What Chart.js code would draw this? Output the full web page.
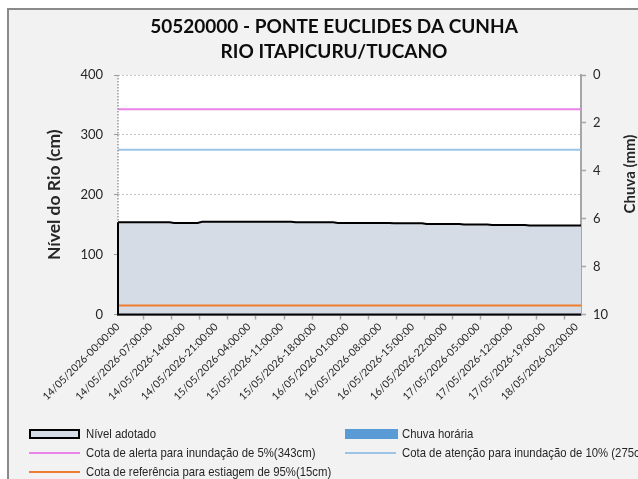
<!DOCTYPE html>
<html><head><meta charset="utf-8">
<script src="https://cdn.jsdelivr.net/npm/chart.js@4/dist/chart.umd.min.js"></script>
<style>
html,body{margin:0;padding:0;background:#fff;overflow:hidden;width:638px;height:479px;}
#frame{position:absolute;left:7px;top:8px;width:660px;height:520px;box-sizing:border-box;border:2px solid #8a8a8a;background:#f2f2f2;}
#c{position:absolute;left:8px;top:8px;}
#legend{position:absolute;left:0;top:0;width:700px;height:479px;font-family:"Liberation Sans",Arial,sans-serif;font-size:13.5px;color:#262626;}
.sym{position:absolute;}
.txt{position:absolute;transform:scaleX(0.84);transform-origin:0 50%;}
</style></head>
<body>
<div id="frame"></div>
<canvas id="c" width="652" height="410"></canvas>
<div id="legend"></div>
<script>
// ---- data ----
const titleLines = ["50520000 - PONTE EUCLIDES DA CUNHA", "RIO ITAPICURU/TUCANO"];
const categories = [
"14/05/2026-00:00:00","14/05/2026-01:00:00","14/05/2026-02:00:00","14/05/2026-03:00:00","14/05/2026-04:00:00","14/05/2026-05:00:00","14/05/2026-06:00:00","14/05/2026-07:00:00","14/05/2026-08:00:00","14/05/2026-09:00:00","14/05/2026-10:00:00","14/05/2026-11:00:00","14/05/2026-12:00:00","14/05/2026-13:00:00","14/05/2026-14:00:00","14/05/2026-15:00:00","14/05/2026-16:00:00","14/05/2026-17:00:00","14/05/2026-18:00:00","14/05/2026-19:00:00","14/05/2026-20:00:00","14/05/2026-21:00:00","14/05/2026-22:00:00","14/05/2026-23:00:00",
"15/05/2026-00:00:00","15/05/2026-01:00:00","15/05/2026-02:00:00","15/05/2026-03:00:00","15/05/2026-04:00:00","15/05/2026-05:00:00","15/05/2026-06:00:00","15/05/2026-07:00:00","15/05/2026-08:00:00","15/05/2026-09:00:00","15/05/2026-10:00:00","15/05/2026-11:00:00","15/05/2026-12:00:00","15/05/2026-13:00:00","15/05/2026-14:00:00","15/05/2026-15:00:00","15/05/2026-16:00:00","15/05/2026-17:00:00","15/05/2026-18:00:00","15/05/2026-19:00:00","15/05/2026-20:00:00","15/05/2026-21:00:00","15/05/2026-22:00:00","15/05/2026-23:00:00",
"16/05/2026-00:00:00","16/05/2026-01:00:00","16/05/2026-02:00:00","16/05/2026-03:00:00","16/05/2026-04:00:00","16/05/2026-05:00:00","16/05/2026-06:00:00","16/05/2026-07:00:00","16/05/2026-08:00:00","16/05/2026-09:00:00","16/05/2026-10:00:00","16/05/2026-11:00:00","16/05/2026-12:00:00","16/05/2026-13:00:00","16/05/2026-14:00:00","16/05/2026-15:00:00","16/05/2026-16:00:00","16/05/2026-17:00:00","16/05/2026-18:00:00","16/05/2026-19:00:00","16/05/2026-20:00:00","16/05/2026-21:00:00","16/05/2026-22:00:00","16/05/2026-23:00:00",
"17/05/2026-00:00:00","17/05/2026-01:00:00","17/05/2026-02:00:00","17/05/2026-03:00:00","17/05/2026-04:00:00","17/05/2026-05:00:00","17/05/2026-06:00:00","17/05/2026-07:00:00","17/05/2026-08:00:00","17/05/2026-09:00:00","17/05/2026-10:00:00","17/05/2026-11:00:00","17/05/2026-12:00:00","17/05/2026-13:00:00","17/05/2026-14:00:00","17/05/2026-15:00:00","17/05/2026-16:00:00","17/05/2026-17:00:00","17/05/2026-18:00:00","17/05/2026-19:00:00","17/05/2026-20:00:00","17/05/2026-21:00:00","17/05/2026-22:00:00","17/05/2026-23:00:00",
"18/05/2026-00:00:00","18/05/2026-01:00:00","18/05/2026-02:00:00","18/05/2026-03:00:00"
];
const nivelAdotado = [
154,154,154,154,154,154,154,154,154,154,154,154,
153,153,153,153,153,153,
155,155,155,155,155,155,155,155,155,155,155,155,155,155,155,155,155,155,155,155,
154,154,154,154,154,154,154,154,154,
153,153,153,153,153,153,153,153,153,153,153,153,
152.5,152.5,152.5,152.5,152.5,152.5,152.5,
151,151,151,151,151,151,151,151,
150.5,150.5,150.5,150.5,150.5,150.5,
149.5,149.5,149.5,149.5,149.5,149.5,149.5,149.5,
148.5,148.5,148.5,148.5,148.5,148.5,148.5,148.5,148.5,148.5,148.5,148.5
];
const chuvaHoraria = [
0,0,0,0,0,0,0,0,0,0,0,0,0,0,0,0,0,0,0,0,0,0,0,0,
0,0,0,0,0,0,0,0,0,0,0,0,0,0,0,0,0,0,0,0,0,0,0,0,
0,0,0,0,0,0,0,0,0,0,0,0,0,0,0,0,0,0,0,0,0,0,0,0,
0,0,0,0,0,0,0,0,0,0,0,0,0,0,0,0,0,0,0,0,0,0,0,0,
0,0,0,0
];
const cotaAlerta = 343;      // 5%
const cotaAtencao = 275;     // 10%
const cotaEstiagem = 15;     // 95%
const nivelTicks = [0, 100, 200, 300, 400];
const chuvaTicks = [0, 2, 4, 6, 8, 10];
const legendLabels = ["Nível adotado","Chuva horária","Cota de alerta para inundação de 5%(343cm)","Cota de atenção para inundação de 10% (275cm)","Cota de referência para estiagem de 95%(15cm)"];

// ---- style ----
const C = {fill:'#d6dce5', line:'#000000', chuva:'#5b9bd5', alerta:'#ea84ea', atencao:'#9dc3e6', estiagem:'#ed7d31', axis:'#a6a6a6', grid:'#c4c4c4', text:'#262626'};
const FONT = 'Lato';

const plotBg = {
  id:'plotBg',
  beforeDraw(chart){
    const {ctx, chartArea:a} = chart;
    ctx.save(); ctx.fillStyle='#ffffff'; ctx.fillRect(a.left,a.top,a.right-a.left,a.bottom-a.top); ctx.restore();
  },
  afterDatasetsDraw(chart){
    const {ctx, chartArea:a} = chart;
    ctx.save();
    ctx.strokeStyle = '#9a9a9a'; ctx.lineWidth = 1.5; ctx.setLineDash([1.5,1.5]);
    ctx.beginPath(); ctx.moveTo(a.left, a.top); ctx.lineTo(a.left, a.bottom); ctx.stroke();
    ctx.restore();
    const meta = chart.getDatasetMeta(chart.data.datasets.findIndex(d=>d.isArea));
    const pts = meta.data; const ys = chart.scales.y;
    const base = ys.getPixelForValue(0);
    ctx.save(); ctx.strokeStyle = C.line; ctx.lineWidth = 2;
    ctx.beginPath(); ctx.moveTo(pts[0].x, pts[0].y); ctx.lineTo(pts[0].x, base); ctx.lineTo(pts[pts.length-1].x, base); ctx.stroke();
    ctx.restore();
  },
  afterDraw(chart){
    const {ctx} = chart;
    ctx.save();
    ctx.font = 'bold 15px ' + FONT; ctx.fillStyle = C.text; ctx.textAlign='center'; ctx.textBaseline='middle';
    ctx.translate(622, 166); ctx.rotate(-Math.PI/2); ctx.fillText('Chuva (mm)', 0, 0);
    ctx.restore();
  }
};

const ds = [
  {label:legendLabels[0], data:nivelAdotado, isArea:true, type:'line', yAxisID:'y', borderColor:C.line, borderWidth:2, backgroundColor:C.fill, fill:'origin', pointRadius:0, tension:0, order:5},
  {label:legendLabels[1], data:chuvaHoraria, type:'bar', yAxisID:'y1', backgroundColor:C.chuva, borderWidth:0, order:4},
  {label:legendLabels[2], data:categories.map(()=>cotaAlerta), type:'line', yAxisID:'y', borderColor:C.alerta, borderWidth:2, pointRadius:0, fill:false, order:1},
  {label:legendLabels[3], data:categories.map(()=>cotaAtencao), type:'line', yAxisID:'y', borderColor:C.atencao, borderWidth:2, pointRadius:0, fill:false, order:1},
  {label:legendLabels[4], data:categories.map(()=>cotaEstiagem), type:'line', yAxisID:'y', borderColor:C.estiagem, borderWidth:2, pointRadius:0, fill:false, order:1}
];

const chart = new Chart(document.getElementById('c'), {
  type:'line',
  data:{labels:categories, datasets:ds},
  plugins:[plotBg],
  options:{
    responsive:false, animation:false, devicePixelRatio:1,
    layout:{padding:0},
    plugins:{
      legend:{display:false}, tooltip:{enabled:false},
      title:{display:true, text:titleLines, color:'#0d0d0d', font:{family:FONT, size:19, weight:'bold', lineHeight:'25px'}, padding:{top:6.5, bottom:10.5}}
    },
    scales:{
      x:{
        type:'category', offset:false,
        grid:{drawOnChartArea:false, drawTicks:true, tickLength:5, color:(c)=> (c.index%6===0 ? C.axis : 'rgba(0,0,0,0)'), tickWidth:1.5},
        border:{display:true, color:C.axis, width:2},
        ticks:{autoSkip:false, maxRotation:45, minRotation:45, padding:1, color:C.text, font:{family:FONT, size:10.5},
          callback:function(v, i){ return i%7===0 ? this.getLabelForValue(v) : ''; }},
        afterFit(s){ s.height = 103.5; }
      },
      y:{
        position:'left', min:0, max:400,
        afterBuildTicks(s){ s.ticks = nivelTicks.map(v=>({value:v})); },
        grid:{color:(c)=> c.tick && c.tick.value===0 ? 'rgba(0,0,0,0)' : C.grid, lineWidth:1, tickLength:4, tickColor:'#9a9a9a', drawTicks:true},
        border:{display:false, dash:[2,2]},
        ticks:{color:C.text, padding:11, font:{family:FONT, size:13}},
        title:{display:true, text:'Nível do Rio (cm)', color:C.text, font:{family:FONT, size:17.5, weight:'bold'}, padding:{top:36, bottom:0}},
        afterFit(s){ s.width = 110; }
      },
      y1:{
        position:'right', min:0, max:10, reverse:true,
        afterBuildTicks(s){ s.ticks = chuvaTicks.map(v=>({value:v})); },
        grid:{drawOnChartArea:false, drawTicks:true, tickLength:5, tickColor:C.axis, tickWidth:1.5},
        border:{display:true, color:C.axis, width:2},
        ticks:{color:C.text, padding:7, font:{family:FONT, size:13}},
        afterFit(s){ s.width = 79; }
      }
    }
  }
});

// ---- HTML legend built from datasets ----
const lg = document.getElementById('legend');
const pos = [[29,434],[345,434],[29,453],[345,453],[29,472]];
chart.data.datasets.forEach((d,i)=>{
  const [x,y] = pos[i];
  const sym = document.createElement('div'); sym.className='sym';
  if (d.isArea){ Object.assign(sym.style,{left:x+'px',top:(y-5)+'px',width:'51px',height:'10px',boxSizing:'border-box',border:'2px solid #000',background:d.backgroundColor}); }
  else if (d.type==='bar'){ Object.assign(sym.style,{left:x+'px',top:(y-5)+'px',width:'53px',height:'10px',background:d.backgroundColor}); }
  else { Object.assign(sym.style,{left:x+'px',top:(y-1)+'px',width:'51px',height:'2px',background:d.borderColor}); }
  lg.appendChild(sym);
  const t = document.createElement('div'); t.className='txt'; t.textContent=d.label;
  Object.assign(t.style,{left:(x+57)+'px',top:(y-8)+'px',lineHeight:'16px',whiteSpace:'nowrap'});
  lg.appendChild(t);
});
</script>
</body></html>
